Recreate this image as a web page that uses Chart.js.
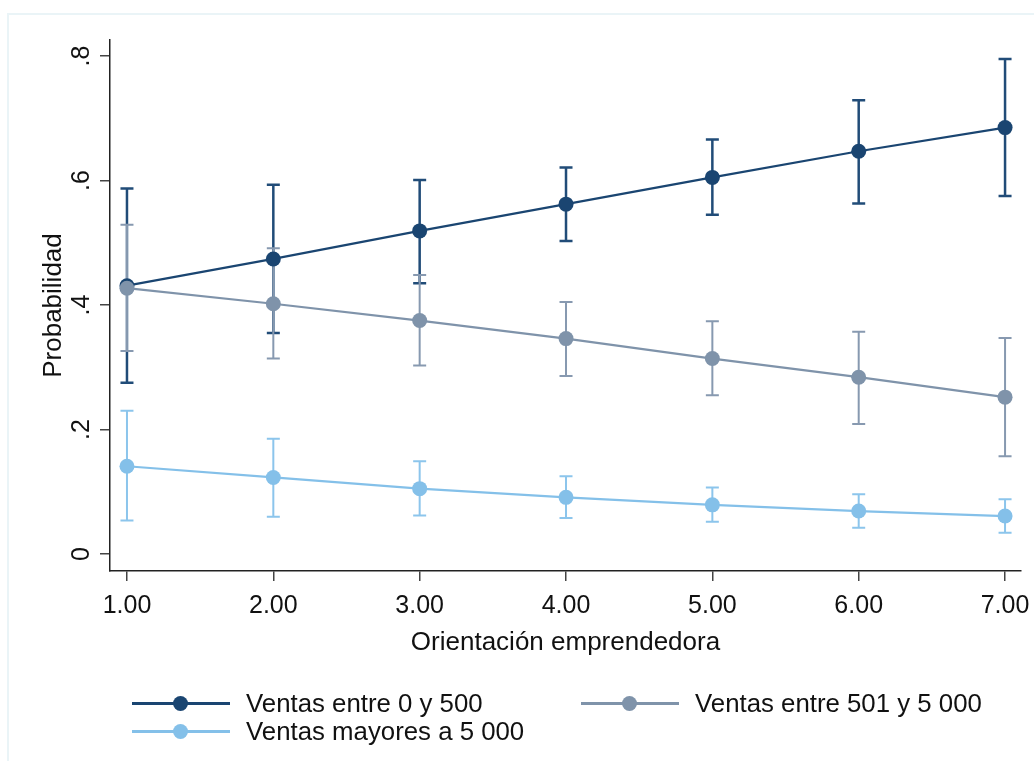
<!DOCTYPE html>
<html>
<head>
<meta charset="utf-8">
<script src="https://cdn.jsdelivr.net/npm/chart.js@4.4.1/dist/chart.umd.min.js"></script>
<style>
  body { margin: 0; background: #fff; }
  #wrap { position: relative; width: 1034px; height: 761px; overflow: hidden; }
  #frame { position: absolute; left: 7px; top: 13px; right: -4px; bottom: -4px;
           border-top: 2px solid #eaf4f7; border-left: 2px solid #eaf4f7; }
  canvas { position: absolute; left: 0; top: 0; }
  .item { position: absolute; height: 28px; display: flex; align-items: center;
          font-family: 'Liberation Sans', Arial, sans-serif; font-size: 25.8px; color: #111; }
  .sample { position: relative; width: 98px; height: 3px; margin-right: 16px; }
  .dot { position: absolute; left: 41px; top: -6px; width: 15px; height: 15px; border-radius: 50%; }
</style>
</head>
<body>
<div id="wrap">
  <div id="frame"></div>
  <canvas id="chart" width="1034" height="761"></canvas>
  <div id="legend"></div>
</div>
<script>
// data
const xValues = [1, 2, 3, 4, 5, 6, 7];
const xTickLabels = ['1.00', '2.00', '3.00', '4.00', '5.00', '6.00', '7.00'];
const yTickValues = [0, 0.2, 0.4, 0.6, 0.8];
const yTickLabels = ['0', '.2', '.4', '.6', '.8'];

const seriesNames = ['Ventas entre 0 y 500', 'Ventas entre 501 y 5 000', 'Ventas mayores a 5 000'];

const ventasBajas = [0.431, 0.474, 0.519, 0.562, 0.605, 0.647, 0.685];
const ventasBajasLo = [0.275, 0.355, 0.435, 0.503, 0.545, 0.563, 0.575];
const ventasBajasHi = [0.587, 0.593, 0.601, 0.621, 0.666, 0.729, 0.795];

const ventasMedias = [0.427, 0.402, 0.375, 0.346, 0.314, 0.284, 0.252];
const ventasMediasLo = [0.326, 0.314, 0.303, 0.286, 0.255, 0.209, 0.157];
const ventasMediasHi = [0.529, 0.491, 0.448, 0.405, 0.374, 0.357, 0.347];

const ventasAltas = [0.141, 0.123, 0.105, 0.091, 0.079, 0.069, 0.061];
const ventasAltasLo = [0.054, 0.060, 0.062, 0.058, 0.052, 0.042, 0.034];
const ventasAltasHi = [0.230, 0.185, 0.149, 0.125, 0.107, 0.096, 0.088];

const colors = ['#1a4571', '#7f93aa', '#84c0e9'];
const ciColors = ['#214c78', '#8799b0', '#8cc5ec'];
const ciWidths = [2.5, 2, 2];

const FONT = "'Liberation Sans', Arial, sans-serif";

function points(vals) {
  return vals.map((v, i) => ({ x: xValues[i], y: v }));
}

const series = [ventasBajas, ventasMedias, ventasAltas];
const lows = [ventasBajasLo, ventasMediasLo, ventasAltasLo];
const highs = [ventasBajasHi, ventasMediasHi, ventasAltasHi];

// capped confidence intervals, drawn under the lines
const errorBars = {
  id: 'errorBars',
  beforeDatasetsDraw(chart) {
    const ctx = chart.ctx;
    const xs = chart.scales.x, ys = chart.scales.y;
    ctx.save();
    series.forEach((s, k) => {
      ctx.strokeStyle = ciColors[k];
      ctx.lineWidth = ciWidths[k];
      for (let i = 0; i < xValues.length; i++) {
        const px = xs.getPixelForValue(xValues[i]);
        const lo = ys.getPixelForValue(lows[k][i]);
        const hi = ys.getPixelForValue(highs[k][i]);
        ctx.beginPath();
        ctx.moveTo(px, lo); ctx.lineTo(px, hi);
        ctx.moveTo(px - 6.5, lo); ctx.lineTo(px + 6.5, lo);
        ctx.moveTo(px - 6.5, hi); ctx.lineTo(px + 6.5, hi);
        ctx.stroke();
      }
    });
    ctx.restore();
  }
};

const datasets = series.map((s, k) => ({
  label: seriesNames[k],
  data: points(s),
  showLine: true,
  borderColor: colors[k],
  borderWidth: 2.2,
  pointRadius: 7.5,
  pointBorderWidth: 0,
  pointBackgroundColor: colors[k],
  order: 3 - k
}));

// keep the plot area where the original has it
function fixX(s) { s.height = 90; s.paddingLeft = 0; s.paddingRight = 0; }
function fixY(s) { s.width = 90; s.paddingTop = 0; s.paddingBottom = 0; }

const ctx = document.getElementById('chart');
const chart = new Chart(ctx, {
  type: 'scatter',
  data: { datasets: datasets },
  plugins: [errorBars],
  options: {
    responsive: false,
    animation: false,
    layout: { padding: { left: 20, top: 40, right: 13, bottom: 100 } },
    plugins: { legend: { display: false }, tooltip: { enabled: false } },
    scales: {
      x: {
        type: 'linear',
        min: 0.884,
        max: 7.109,
        afterFit: fixX,
        afterBuildTicks: s => { s.ticks = xValues.map(v => ({ value: v })); },
        grid: { drawOnChartArea: false, drawTicks: true, tickLength: 10, color: '#444', lineWidth: 1.5 },
        border: { display: true, color: '#222', width: 1.5 },
        ticks: {
          padding: 10,
          maxRotation: 0,
          color: '#111',
          font: { family: FONT, size: 25 },
          callback: (v, i) => xTickLabels[i]
        },
        title: {
          display: true,
          text: 'Orientación emprendedora',
          color: '#111',
          font: { family: FONT, size: 26 },
          padding: { top: 0, bottom: 3 }
        }
      },
      y: {
        type: 'linear',
        min: -0.0273,
        max: 0.8257,
        afterFit: fixY,
        afterBuildTicks: s => { s.ticks = yTickValues.map(v => ({ value: v })); },
        grid: { drawOnChartArea: false, drawTicks: true, tickLength: 10, color: '#444', lineWidth: 1.5 },
        border: { display: true, color: '#222', width: 1.5 },
        ticks: {
          padding: 7,
          minRotation: 90,
          maxRotation: 90,
          crossAlign: 'center',
          color: '#111',
          font: { family: FONT, size: 25 },
          callback: (v, i) => yTickLabels[i]
        },
        title: {
          display: true,
          text: 'Probabilidad',
          color: '#111',
          font: { family: FONT, size: 26 },
          padding: { top: 18, bottom: 0 }
        }
      }
    }
  }
});

// legend laid out in two columns like the original
const legendCols = [132, 581];
const legendRows = [703.5, 731.5];
const legend = document.getElementById('legend');
seriesNames.forEach((name, k) => {
  const item = document.createElement('div');
  item.className = 'item';
  item.style.left = legendCols[k % 2] + 'px';
  item.style.top = (legendRows[Math.floor(k / 2)] - 14) + 'px';
  item.innerHTML = `<span class="sample" style="background:${colors[k]}"><span class="dot" style="background:${colors[k]}"></span></span><span>${name}</span>`;
  legend.appendChild(item);
});
</script>
</body>
</html>
